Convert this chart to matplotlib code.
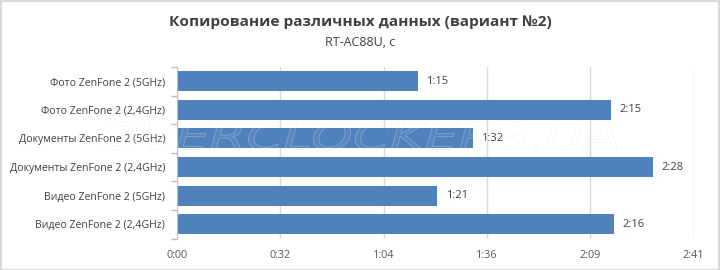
import matplotlib
matplotlib.use("Agg")
import matplotlib.pyplot as plt
from matplotlib.textpath import TextPath
from matplotlib.patches import PathPatch
from matplotlib.font_manager import FontProperties
from matplotlib.transforms import Affine2D
import numpy as np

categories = [
    "Фото ZenFone 2 (5GHz)",
    "Фото ZenFone 2 (2,4GHz)",
    "Документы ZenFone 2 (5GHz)",
    "Документы ZenFone 2 (2,4GHz)",
    "Видео ZenFone 2 (5GHz)",
    "Видео ZenFone 2 (2,4GHz)",
]
values_sec = [75, 135, 92, 148, 81, 136]
tick_labels = ["0:00", "0:32", "1:04", "1:36", "2:09", "2:41"]
tick_step_sec = 32.15

title = "Копирование различных данных (вариант №2)"
subtitle = "RT-AC88U, с"

FONT = ["Open Sans", "DejaVu Sans"]
plt.rcParams["font.family"] = FONT

W, H = 720, 270
fig = plt.figure(figsize=(W / 100, H / 100), dpi=100)
fig.patch.set_facecolor("white")

ax = fig.add_axes([177 / W, 1 - 238.5 / H, (693.7 - 177) / W, (238.5 - 67) / H])

y = np.arange(len(categories))
ax.barh(y, values_sec, height=0.7, color="#4F81BD", zorder=3)
ax.set_ylim(len(categories) - 0.5, -0.5)
ax.set_yticks(y)
ax.set_yticklabels(categories, fontsize=7.6, color="#404040")
ax.set_yticks(np.arange(len(categories) + 1) - 0.5, minor=True)
ax.tick_params(axis="y", which="major", length=0, pad=8.5)
ax.tick_params(axis="y", which="minor", length=4, color="#BFBFBF", width=1)

xt = [i * tick_step_sec for i in range(len(tick_labels))]
ax.set_xticks(xt)
ax.set_xticklabels(tick_labels, fontsize=7.8, color="#595959")
ax.set_xlim(0, xt[-1])
ax.tick_params(axis="x", length=0, pad=8)
ax.grid(axis="x", color="#D9D9D9", linewidth=1, zorder=0)

for s in ["top", "right", "bottom"]:
    ax.spines[s].set_visible(False)
ax.spines["left"].set_color("#BFBFBF")
ax.spines["left"].set_zorder(4)

def fmt(v):
    return f"{int(v) // 60}:{int(v) % 60:02d}"

for yi, v in zip(y, values_sec):
    ax.annotate(fmt(v), (v, yi), xytext=(6, 0), textcoords="offset points",
                va="center", ha="left", fontsize=8, color="#404040")

fig.text(0.5, 1 - 22 / H, title, ha="center", va="center", fontsize=11.1,
         fontweight="bold", color="#404040")
fig.text(0.5, 1 - 42 / H, subtitle, ha="center", va="center", fontsize=9,
         color="#404040")

# faint watermark
fp = FontProperties(family="DejaVu Sans", style="italic")
tp = TextPath((0, 0), "OVERCLOCKERS.UA", prop=fp, size=10)
bb = tp.get_extents()
x0, x1, y0, y1 = 100, 617, 122, 150
sx = (x1 - x0) / bb.width
sy = (y1 - y0) / bb.height
tr = Affine2D().translate(-bb.x0, -bb.y0).scale(sx, sy).translate(x0, H - y1)
path = tr.transform_path(tp)
patch = PathPatch(path, facecolor=(1, 1, 1, 0.06), edgecolor=(0.9, 0.9, 0.9, 0.3),
                  linewidth=0.7, transform=None, zorder=10)
fig.patches.append(patch)

# chart border
border = plt.Rectangle((0.5 / W, 0.5 / H), 1 - 1.5 / W, 1 - 1.5 / H, transform=fig.transFigure,
                       fill=False, edgecolor="#D9D9D9", linewidth=1.5)
fig.patches.append(border)

fig.savefig("out.png", dpi=100)
